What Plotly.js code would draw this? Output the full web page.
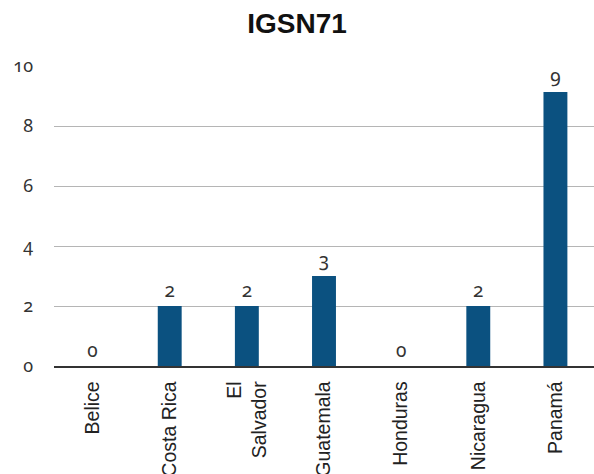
<!DOCTYPE html>
<html><head><meta charset="utf-8">
<script src="https://cdn.plot.ly/plotly-3.0.1.min.js"></script>
<style>html,body{margin:0;padding:0;background:#fff}#c{width:594px;height:474px}
svg text{font-variant-numeric: oldstyle-nums !important; font-feature-settings: "onum" 1 !important;}
</style>
</head><body><div id="c"></div>
<script>
const categories = ['Belice','Costa Rica','El<br>Salvador','Guatemala','Honduras','Nicaragua','Panamá'];
const values = [0, 2, 2, 3, 0, 2, 9.13];
const yTicks = [0, 2, 4, 6, 8, 10];

const font = "'Liberation Sans', Arial, sans-serif";
const numFont = "'Noto Sans', 'Liberation Sans', sans-serif";
Plotly.newPlot('c', [{
  type: 'bar',
  x: categories,
  y: values,
  marker: {color: '#0b5180'},
  texttemplate: '%{y:.0f}',
  textposition: 'outside',
  cliponaxis: false,
  textfont: {family: numFont, size: 19, color: '#333'},
  hoverinfo: 'none'
}], {
  width: 594, height: 474,
  margin: {l: 54, r: 0, t: 66, b: 108, pad: 0},
  paper_bgcolor: '#fff', plot_bgcolor: '#fff',
  bargap: 0.69,
  showlegend: false,
  title: {text: '<b>IGSN71</b>', x: 0.5, xanchor: 'center', y: 0.952, yanchor: 'middle',
          font: {family: font, size: 28, color: '#111'}},
  xaxis: {
    tickangle: -90, tickfont: {family: font, size: 19.5, color: '#222'},
    showline: true, linecolor: '#333', linewidth: 1.5, ticks: '', showgrid: false,
    ticklabelstandoff: 6
  },
  yaxis: {
    range: [0, 10], tickvals: yTicks, ticktext: yTicks.map(String),
    tickfont: {family: numFont, size: 18, color: '#333'},
    showgrid: true, gridcolor: '#b5b5b5', gridwidth: 1,
    zeroline: false, showline: false, ticks: '',
    ticklabelstandoff: 20
  }
}, {displayModeBar: false, staticPlot: true});
</script></body></html>
